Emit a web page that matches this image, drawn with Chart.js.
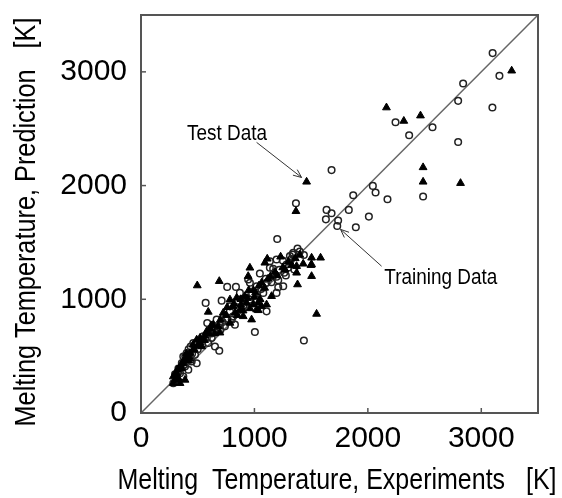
<!DOCTYPE html>
<html>
<head>
<meta charset="utf-8">
<script src="https://cdn.jsdelivr.net/npm/chart.js@4/dist/chart.umd.min.js"></script>
<style>
  html, body { margin: 0; padding: 0; background: #fff; }
  #wrap { width: 562px; height: 498px; }
</style>
</head>
<body>
<div id="wrap"><canvas id="chart"></canvas></div>
<script>
// training data (open circles): experiment vs prediction [K]
const trainX = [3100, 3160, 2840, 2796, 3098, 2244, 2570, 2364, 2796, 1680, 2044, 2068, 1871, 2173, 2487,
  1366, 1636, 1680, 1832, 1630, 1738, 2009, 1730, 1894, 1201, 1380, 1436, 1342, 1313, 1436, 1004, 690,
  570, 584, 711, 760, 837, 1107, 1048, 1195, 1136, 1210, 1277, 491, 285, 438,
  1336, 1322, 1283, 1351, 1263, 1195, 1210, 1107, 1165, 1136, 828, 760, 696, 652, 623, 535, 373, 314,
  417, 784, 901, 960, 872, 1078, 1019, 945, 813, 740, 593, 652, 476, 447, 344, 388, 1195, 1254, 960,
  784, 667, 549, 461, 403, 329, 373, 476, 432,
  300, 330, 360, 390, 420, 450, 500, 540, 580, 620, 660, 700, 720, 800, 850, 900, 980, 1020, 1060, 1100,
  1150, 1220, 1300, 1250, 1400];
const trainY = [3165, 2965, 2898, 2745, 2686, 2557, 2513, 2442, 2383, 2136, 1997, 1939, 1915, 1880, 1904,
  1845, 1786, 1756, 1786, 1703, 1692, 1727, 1644, 1633, 1530, 1447, 1389, 1409, 1380, 638, 712, 547,
  968, 792, 988, 1109, 1109, 894, 1227, 1350, 1277, 1168, 1209, 438, 262, 585,
  1394, 1350, 1306, 1262, 1233, 1198, 1106, 1145, 1268, 1335, 777, 830, 771, 709, 659, 644, 497, 306,
  380, 894, 938, 997, 1056, 1056, 1115, 1174, 850, 762, 615, 585, 512, 453, 350, 409, 1056, 1115, 1145,
  938, 821, 674, 615, 527, 365, 320, 600, 527,
  340, 390, 440, 500, 560, 520, 560, 600, 660, 700, 740, 730, 800, 820, 930, 1000, 1050, 1000, 1090, 1180,
  1150, 1260, 1280, 1340, 1420];

// test data (filled triangles)
const testX = [3268, 2164, 2317, 2464, 2487, 2487, 2817, 1460, 1366, 1583, 1504, 1498, 1504, 1380, 1548,
  1231, 1113, 960, 945, 690, 496, 593, 975, 1372, 1430, 1092, 388,
  1063, 1151, 931, 872, 1019, 813, 901, 784, 696, 491, 535, 432, 373, 314, 285, 344, 285, 1372, 1504,
  843, 916, 784, 725, 637, 579, 461, 403, 358, 300, 1034, 1063, 989,
  880, 950, 1000, 900, 850, 1050, 960, 1010, 1120, 1180, 1250, 1300, 330, 420, 470, 520, 560, 610, 650,
  1034, 1107,
  300, 320, 350, 380, 400, 430, 460, 500, 520, 560, 600, 620, 680, 700, 750, 760, 820, 830, 880, 940,
  990, 1040, 1090, 1140, 1200, 1270, 1330, 1360, 1400];
const testY = [3010, 2686, 2568, 2615, 2160, 2033, 2021, 2033, 1774, 1365, 1365, 1300, 1203, 1130, 871,
  1374, 1356, 1277, 1203, 1159, 1121, 889, 821, 1291, 1312, 1321, 291,
  1145, 1027, 968, 909, 909, 938, 850, 792, 706, 644, 585, 527, 438, 350, 320, 262, 262, 1233, 1306,
  1012, 1027, 997, 880, 777, 718, 556, 483, 394, 291, 968, 938, 953,
  1000, 1080, 1020, 900, 860, 1000, 920, 1060, 1180, 1240, 1280, 1330, 300, 460, 560, 620, 680, 740, 700,
  903, 953,
  330, 380, 420, 470, 520, 480, 600, 590, 660, 640, 700, 770, 760, 820, 860, 930, 960, 880, 950, 1010,
  1080, 1120, 1100, 1200, 1210, 1260, 1300, 1360, 1390];

const axisMin = 0;
const axisMax = 3500;
const tickValues = [0, 1000, 2000, 3000];

const xTitle = 'Melting  Temperature, Experiments   [K]';
const yTitle = 'Melting Temperature, Prediction   [K]';

const font = "'Liberation Sans', Arial, sans-serif";

const notes = [
  { text: 'Test Data', w: 80, at: [758, 2454], from: [1019, 2380], to: [1416, 2071] },
  { text: 'Training Data', w: 113, at: [2643, 1191], from: [2121, 1291], to: [1759, 1615] }
];

function pts(xs, ys) {
  return xs.map((x, i) => ({ x: x, y: ys[i] }));
}

// frame, inward ticks, condensed axis titles and arrow labels
const decor = {
  id: 'decor',
  afterDraw(chart) {
    const { ctx, chartArea: a, scales: { x, y } } = chart;
    ctx.save();
    ctx.strokeStyle = '#555';
    ctx.lineWidth = 2;
    ctx.strokeRect(a.left, a.top, a.right - a.left, a.bottom - a.top);
    ctx.lineWidth = 1.5;
    tickValues.forEach(v => {
      if (v === axisMin) return;
      const px = x.getPixelForValue(v);
      ctx.beginPath(); ctx.moveTo(px, a.bottom); ctx.lineTo(px, a.bottom - 5); ctx.stroke();
      const py = y.getPixelForValue(v);
      ctx.beginPath(); ctx.moveTo(a.left, py); ctx.lineTo(a.left + 5, py); ctx.stroke();
    });

    // axis titles, squeezed like a narrow face
    ctx.fillStyle = '#000';
    ctx.textAlign = 'center';
    ctx.textBaseline = 'middle';
    ctx.font = '30px ' + font;
    ctx.fillText(xTitle, 337, 481, 439);
    ctx.save();
    ctx.translate(27, 222);
    ctx.rotate(-Math.PI / 2);
    ctx.fillText(yTitle, 0, 0, 409);
    ctx.restore();

    ctx.fillStyle = '#000';
    ctx.font = '22px ' + font;
    ctx.strokeStyle = '#333';
    ctx.lineWidth = 1;
    notes.forEach(n => {
      ctx.fillText(n.text, x.getPixelForValue(n.at[0]), y.getPixelForValue(n.at[1]), n.w);
      const x0 = x.getPixelForValue(n.from[0]), y0 = y.getPixelForValue(n.from[1]);
      const x1 = x.getPixelForValue(n.to[0]), y1 = y.getPixelForValue(n.to[1]);
      const ang = Math.atan2(y1 - y0, x1 - x0);
      ctx.beginPath();
      ctx.moveTo(x0, y0); ctx.lineTo(x1, y1);
      ctx.moveTo(x1 - 9 * Math.cos(ang - 0.4), y1 - 9 * Math.sin(ang - 0.4));
      ctx.lineTo(x1, y1);
      ctx.lineTo(x1 - 9 * Math.cos(ang + 0.4), y1 - 9 * Math.sin(ang + 0.4));
      ctx.stroke();
    });
    ctx.restore();
  }
};

function axis(fit, pad) {
  return {
    type: 'linear',
    min: axisMin,
    max: axisMax,
    afterBuildTicks: s => { s.ticks = tickValues.map(v => ({ value: v })); },
    afterFit: s => {
      fit(s);
      s.paddingTop = 0; s.paddingBottom = 0; s.paddingLeft = 0; s.paddingRight = 0;
    },
    grid: { display: false, drawTicks: false },
    border: { display: false },
    ticks: {
      color: '#000',
      padding: pad,
      maxRotation: 0,
      font: { family: font, size: 30 },
      callback: v => String(v)
    }
  };
}

new Chart(document.getElementById('chart'), {
  type: 'scatter',
  data: {
    datasets: [
      {
        label: 'Test Data',
        data: pts(testX, testY),
        pointStyle: 'triangle',
        pointRadius: 4.5,
        backgroundColor: '#000',
        borderColor: '#000',
        borderWidth: 1,
        order: 1
      },
      {
        label: 'Training Data',
        data: pts(trainX, trainY),
        pointStyle: 'circle',
        pointRadius: 3.3,
        backgroundColor: 'rgba(255,255,255,0)',
        borderColor: '#222',
        borderWidth: 1.5,
        order: 2
      },
      {
        label: 'y = x',
        data: [{ x: axisMin, y: axisMin }, { x: axisMax, y: axisMax }],
        showLine: true,
        pointRadius: 0,
        borderColor: '#666',
        borderWidth: 1.5,
        order: 3
      }
    ]
  },
  options: {
    responsive: true,
    maintainAspectRatio: false,
    animation: false,
    layout: { padding: { top: 15, right: 24, left: 0, bottom: 0 } },
    plugins: { legend: { display: false }, tooltip: { enabled: false } },
    scales: {
      x: axis(s => { s.height = 85; }, 8),
      y: axis(s => { s.width = 141; }, 14)
    }
  },
  plugins: [decor]
});
</script>
</body>
</html>
